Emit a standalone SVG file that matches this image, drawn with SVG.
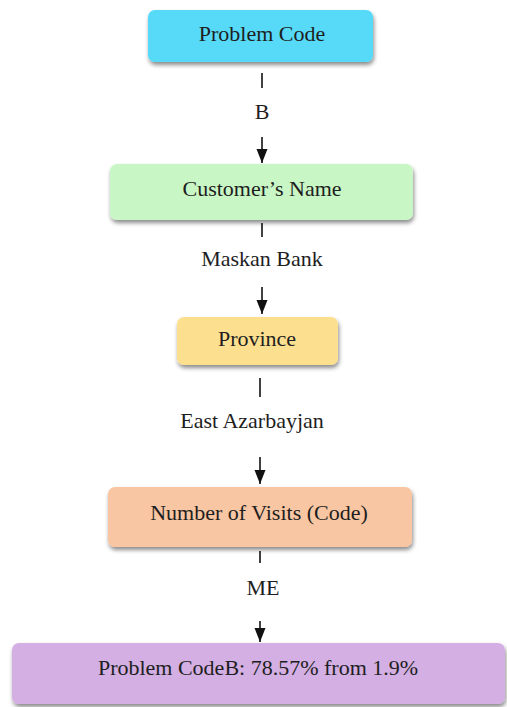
<svg xmlns="http://www.w3.org/2000/svg" width="507" height="707" viewBox="0 0 507 707">
<defs>
<filter id="sh" x="-10%" y="-20%" width="120%" height="150%">
<feDropShadow dx="1" dy="3" stdDeviation="2" flood-color="#000" flood-opacity="0.45"/>
</filter>
<marker id="ah" markerWidth="14" markerHeight="12" refX="14" refY="5.5" orient="auto" markerUnits="userSpaceOnUse">
<path d="M0,0 L14,5.5 L0,11 Z" fill="#111"/>
</marker>
</defs>
<style>
text{font-family:"Liberation Serif","Times New Roman",serif;font-size:22px;fill:#1e1e1e;text-anchor:middle;dominant-baseline:central}
.box{filter:url(#sh)}
.ln{stroke:#111;stroke-width:1.6;fill:none}
</style>
<rect width="507" height="707" fill="#fff"/>
<g id="n1"><rect class="box" x="148" y="10" width="225" height="52" rx="7" fill="#56DAF7"/><text x="262" y="33">Problem Code</text></g>
<g id="n2"><rect class="box" x="110" y="164" width="303" height="56" rx="7" fill="#C9F6C5"/><text x="262" y="188">Customer’s Name</text></g>
<g id="n3"><rect class="box" x="177" y="317" width="161" height="48" rx="7" fill="#FDE08F"/><text x="257" y="338">Province</text></g>
<g id="n4"><rect class="box" x="108" y="487" width="304" height="60" rx="7" fill="#F8C6A2"/><text x="259" y="512">Number of Visits (Code)</text></g>
<g id="n5"><rect class="box" x="12" y="643" width="493" height="61" rx="7" fill="#D3AFE3"/><text x="258" y="667">Problem CodeB: 78.57% from 1.9%</text></g>
<g id="connectors">
<line class="ln" x1="262" y1="73" x2="262" y2="88"/>
<text x="262" y="111">B</text>
<line class="ln" x1="262" y1="137" x2="262" y2="163" marker-end="url(#ah)"/>
<line class="ln" x1="262" y1="223" x2="262" y2="237"/>
<text x="262" y="258">Maskan Bank</text>
<line class="ln" x1="262" y1="287" x2="262" y2="314" marker-end="url(#ah)"/>
<line class="ln" x1="260" y1="378" x2="260" y2="397"/>
<text x="252" y="420">East Azarbayjan</text>
<line class="ln" x1="260" y1="457" x2="260" y2="484" marker-end="url(#ah)"/>
<line class="ln" x1="260" y1="551" x2="260" y2="563"/>
<text x="263" y="587">ME</text>
<line class="ln" x1="260" y1="621" x2="260" y2="642" marker-end="url(#ah)"/>
</g>
</svg>
